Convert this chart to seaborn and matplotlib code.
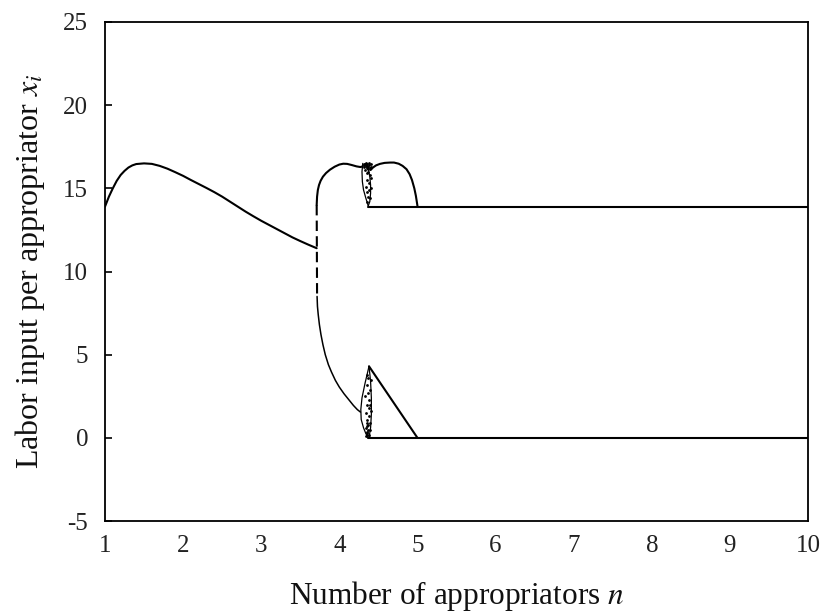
import matplotlib
matplotlib.use("Agg")
import matplotlib.pyplot as plt
import numpy as np
import pandas as pd
import seaborn as sns

# Symmetric equilibrium for small groups (single branch)
n_single = [1.0, 1.05, 1.1, 1.15, 1.2, 1.25, 1.3, 1.35, 1.4, 1.5, 1.6, 1.7, 1.8,
            1.9, 2.0, 2.1, 2.2, 2.3, 2.4, 2.5, 2.6, 2.7, 2.8, 2.9, 3.0, 3.1,
            3.2, 3.3, 3.4, 3.5, 3.6, 3.71]
x_single = [13.9, 14.5, 15.0, 15.45, 15.8, 16.05, 16.25, 16.38, 16.46, 16.5, 16.47,
            16.35, 16.18, 15.97, 15.75, 15.5, 15.26, 15.02, 14.77, 14.5, 14.2,
            13.9, 13.6, 13.32, 13.05, 12.8, 12.55, 12.3, 12.05, 11.83, 11.62, 11.4]

# Jump between branches at the bifurcation point
n_jump = [3.71, 3.715]
x_jump = [14.0, 8.5]

# High-effort branch after the split
n_high_a = [3.71, 3.715, 3.725, 3.74, 3.76, 3.79, 3.83, 3.88, 3.94, 4.0, 4.05,
            4.1, 4.16, 4.22, 4.27, 4.30]
x_high_a = [14.0, 14.5, 14.9, 15.2, 15.45, 15.7, 15.92, 16.12, 16.3, 16.43, 16.48,
            16.47, 16.4, 16.32, 16.28, 16.32]
n_high_b = [4.40, 4.43, 4.47, 4.52, 4.58, 4.65, 4.7, 4.76, 4.81, 4.86, 4.9,
            4.93, 4.96, 4.98, 5.0]
x_high_b = [16.1, 16.25, 16.38, 16.47, 16.53, 16.55, 16.55, 16.48, 16.35, 16.15,
            15.85, 15.5, 15.0, 14.55, 13.95]

# Low-effort branch after the split
n_low_a = [3.715, 3.72, 3.73, 3.745, 3.765, 3.79, 3.82, 3.86, 3.9, 3.95, 4.0,
           4.06, 4.12, 4.18, 4.23, 4.27]
x_low_a = [8.5, 7.9, 7.4, 6.8, 6.2, 5.6, 5.0, 4.4, 3.95, 3.45, 3.05,
           2.65, 2.3, 1.95, 1.7, 1.55]
n_low_b = [4.38, 5.0]
x_low_b = [4.3, 0.0]

# Asymmetric steady states for large groups
n_flat = [4.37, 10.0]
x_flat_high = [13.9, 13.9]
x_flat_low = [0.0, 0.0]

# Boundaries of the irregular windows near n = 4.35
n_win_up_l = [4.30, 4.29, 4.295, 4.31, 4.34, 4.37]
x_win_up_l = [16.5, 16.0, 15.4, 14.9, 14.4, 13.95]
n_win_up_r = [4.34, 4.37, 4.39, 4.40, 4.40, 4.39, 4.37]
x_win_up_r = [16.5, 16.2, 15.7, 15.2, 14.7, 14.2, 13.95]
n_win_lo_l = [4.38, 4.33, 4.29, 4.275, 4.28, 4.31, 4.34, 4.37]
x_win_lo_l = [4.3, 3.3, 2.4, 1.7, 1.1, 0.6, 0.25, 0.0]
n_win_lo_r = [4.38, 4.40, 4.41, 4.41, 4.40, 4.38]
x_win_lo_r = [4.3, 3.4, 2.4, 1.4, 0.6, 0.0]

# Scattered iterates inside the irregular windows
n_scat_up = [4.31, 4.32, 4.33, 4.34, 4.35, 4.36, 4.37, 4.38, 4.39, 4.40, 4.33, 4.35,
             4.37, 4.39, 4.36, 4.38, 4.40, 4.34, 4.36, 4.38, 4.37, 4.39, 4.35, 4.41,
             4.32, 4.34, 4.36, 4.38, 4.40, 4.37]
x_scat_up = [16.45, 16.3, 16.45, 16.35, 16.2, 16.45, 16.3, 16.4, 16.25, 16.45, 16.1, 15.9,
             16.0, 15.8, 15.5, 15.3, 15.6, 15.1, 14.8, 14.9, 14.5, 14.4, 14.2, 15.0,
             16.4, 16.5, 16.35, 16.5, 16.3, 16.15]
n_scat_lo = [4.34, 4.35, 4.36, 4.37, 4.38, 4.39, 4.35, 4.37, 4.39, 4.36, 4.38, 4.40,
             4.34, 4.36, 4.38, 4.37, 4.39, 4.35, 4.40, 4.33, 4.35, 4.37, 4.39, 4.36,
             4.38, 4.34, 4.36, 4.38]
x_scat_lo = [0.1, 0.3, 0.15, 0.45, 0.2, 0.5, 0.7, 0.8, 0.9, 1.1, 1.3, 1.6,
             1.5, 2.0, 2.3, 2.7, 2.9, 3.2, 3.5, 2.5, 3.8, 3.6, 2.0, 0.9,
             0.05, 0.6, 0.35, 1.8]

x_ticks = [1, 2, 3, 4, 5, 6, 7, 8, 9, 10]
y_ticks = [-5, 0, 5, 10, 15, 20, 25]

sns.set_theme(style="white")
plt.rcParams["font.family"] = ["Liberation Serif"]
plt.rcParams["mathtext.fontset"] = "stix"

fig = plt.figure(figsize=(8.28, 6.15), dpi=100)
ax = fig.add_axes([105 / 828, 94 / 615, 703 / 828, 499 / 615])


def frame(segments):
    parts = []
    for name, (ns, xs) in segments.items():
        parts.append(pd.DataFrame({"n": ns, "x": xs, "seg": name}))
    return pd.concat(parts, ignore_index=True)


main = frame({
    "single": (n_single, x_single),
    "high_a": (n_high_a, x_high_a),
    "high_b": (n_high_b, x_high_b),
    "low_b": (n_low_b, x_low_b),
    "flat_high": (n_flat, x_flat_high),
    "flat_low": (n_flat, x_flat_low),
})
thin = frame({"low_a": (n_low_a, x_low_a)})
windows = frame({
    "up_l": (n_win_up_l, x_win_up_l),
    "up_r": (n_win_up_r, x_win_up_r),
    "lo_l": (n_win_lo_l, x_win_lo_l),
    "lo_r": (n_win_lo_r, x_win_lo_r),
})
jump = frame({"jump": (n_jump, x_jump)})

sns.lineplot(data=main, x="n", y="x", units="seg", estimator=None, sort=False,
             color="black", linewidth=1.5, ax=ax)
sns.lineplot(data=thin, x="n", y="x", units="seg", estimator=None, sort=False,
             color="black", linewidth=1.1, ax=ax)
sns.lineplot(data=windows, x="n", y="x", units="seg", estimator=None, sort=False,
             color="black", linewidth=0.9, ax=ax)
sns.lineplot(data=jump, x="n", y="x", units="seg", estimator=None, sort=False,
             color="black", linewidth=1.5, ax=ax)
ax.lines[-1].set_dashes([5, 2.5])

dots = pd.DataFrame({"n": n_scat_up + n_scat_lo, "x": x_scat_up + x_scat_lo})
sns.scatterplot(data=dots, x="n", y="x", s=4, color="black", linewidth=0, ax=ax)

ax.set_xlim(1, 10)
ax.set_ylim(-5, 25)
ax.set_xticks(x_ticks)
ax.set_yticks(y_ticks)
ax.set_xticklabels([str(t) for t in x_ticks])
ax.set_yticklabels([str(t) for t in y_ticks])
ax.tick_params(axis="y", direction="in", length=5, width=1.2, left=True,
               pad=12, labelsize=18, colors="black", labelcolor="#222222")
ax.tick_params(axis="x", length=0, pad=10, labelsize=18, labelcolor="#222222")
for side in ["left", "right", "top", "bottom"]:
    ax.spines[side].set_color("black")
    ax.spines[side].set_linewidth(1.3)
ax.grid(False)

ax.set_xlabel("Number of appropriators $n$", fontsize=22.5, labelpad=16,
              color="#111111")
ax.set_ylabel("Labor input per appropriator $x_i$", fontsize=23, labelpad=12,
              color="#111111")

fig.savefig("out.png", dpi=100, facecolor="white")
